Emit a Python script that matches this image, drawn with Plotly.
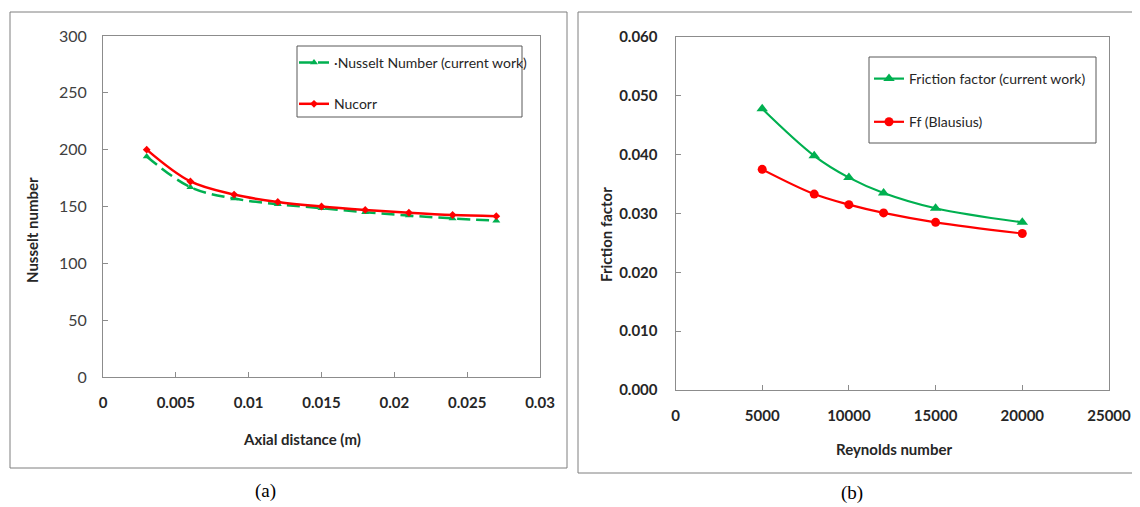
import plotly.graph_objects as go

# page offset caused by the default body margin of the html page
OFF = 8
W, H = 1140 - OFF, 507 - OFF

# ---------------- data ----------------
axial_x = [0.003, 0.006, 0.009, 0.012, 0.015, 0.018, 0.021, 0.024, 0.027]
nu_current = [194, 167, 157, 152, 148.5, 145, 142, 139.5, 137.5]
nu_corr = [200, 172, 160.5, 154, 150, 147, 144.5, 142.5, 141.5]

reynolds = [5000, 8000, 10000, 12000, 15000, 20000]
ff_current = [0.0478, 0.0398, 0.0361, 0.0335, 0.0309, 0.0285]
ff_blasius = [0.0375, 0.0333, 0.0315, 0.0301, 0.0285, 0.0266]

left_xticks = [0, 0.005, 0.01, 0.015, 0.02, 0.025, 0.03]
left_xticklabels = ["0", "0.005", "0.01", "0.015", "0.02", "0.025", "0.03"]
left_yticks = [0, 50, 100, 150, 200, 250, 300]
right_xticks = [0, 5000, 10000, 15000, 20000, 25000]
right_yticks = [0.0, 0.01, 0.02, 0.03, 0.04, 0.05, 0.06]
right_yticklabels = ["0.000", "0.010", "0.020", "0.030", "0.040", "0.050", "0.060"]

GREEN = "#00B050"
RED = "#FF0000"
FONT = "Lato"
TXT = "#262626"
TXT2 = "#404040"
AXC = "#8C8C8C"


def px(x):
    return (x - OFF) / W


def py(y):
    return 1 - (y - OFF) / H


fig = go.Figure()

# ---- left chart ----
fig.add_trace(go.Scatter(
    x=axial_x, y=nu_current, name="\u00b7Nusselt Number (current work)",
    mode="lines+markers", line=dict(color=GREEN, width=2.5, dash="13px,6px", shape="spline"),
    marker=dict(symbol="triangle-up", size=7, color=GREEN),
    xaxis="x", yaxis="y", legend="legend", legendgroup="a1"))
fig.add_trace(go.Scatter(
    x=axial_x, y=nu_corr, name="Nucorr",
    mode="lines+markers", line=dict(color=RED, width=2.5, shape="spline"),
    marker=dict(symbol="diamond", size=6, color=RED),
    xaxis="x", yaxis="y", legend="legend", legendgroup="a2"))

# ---- right chart ----
fig.add_trace(go.Scatter(
    x=reynolds, y=ff_current, name="Friction factor (current work)",
    mode="lines+markers", line=dict(color=GREEN, width=2.2, shape="spline"),
    marker=dict(symbol="triangle-up", size=10, color=GREEN),
    xaxis="x2", yaxis="y2", legend="legend2", legendgroup="b1"))
fig.add_trace(go.Scatter(
    x=reynolds, y=ff_blasius, name="Ff (Blausius)",
    mode="lines+markers", line=dict(color=RED, width=2.2, shape="spline"),
    marker=dict(symbol="circle", size=9, color=RED),
    xaxis="x2", yaxis="y2", legend="legend2", legendgroup="b2"))

common_axis = dict(showline=True, linecolor=AXC, linewidth=1, mirror=True,
                   showgrid=False, zeroline=False, ticks="inside", ticklen=5,
                   tickcolor=AXC, tickwidth=1, automargin=False)

fig.update_layout(
    width=W, height=H,
    margin=dict(l=0, r=0, t=0, b=0, autoexpand=False),
    paper_bgcolor="white", plot_bgcolor="white",
    font=dict(family=FONT, size=14, color=TXT),
    xaxis=dict(domain=[px(103), px(540)], range=[0, 0.03], anchor="y",
               tickvals=left_xticks, ticktext=["<b>%s</b>" % t for t in left_xticklabels],
               tickfont=dict(size=15, color=TXT), ticklabelstandoff=12, **common_axis),
    yaxis=dict(domain=[py(377), py(36)], range=[0, 300], anchor="x",
               tickvals=left_yticks, tickfont=dict(size=16, color=TXT2),
               ticklabelstandoff=12, **common_axis),
    xaxis2=dict(domain=[px(675.5), px(1109)], range=[0, 25000], anchor="y2",
                tickvals=right_xticks, ticktext=["<b>%d</b>" % t for t in right_xticks],
                tickfont=dict(size=15, color=TXT), ticklabelstandoff=12, **common_axis),
    yaxis2=dict(domain=[py(390), py(37)], range=[0, 0.06], anchor="x2",
                tickvals=right_yticks, ticktext=["<b>%s</b>" % t for t in right_yticklabels],
                tickfont=dict(size=15, color=TXT), ticklabelstandoff=14, **common_axis),
    legend=dict(x=px(294), y=py(47), xanchor="left", yanchor="top",
                bgcolor="rgba(0,0,0,0)", borderwidth=0, tracegroupgap=20,
                traceorder="grouped", itemwidth=30,
                font=dict(family=FONT, size=14, color=TXT)),
    legend2=dict(x=px(869), y=py(63), xanchor="left", yanchor="top",
                 bgcolor="rgba(0,0,0,0)", borderwidth=0, tracegroupgap=22,
                 traceorder="grouped", itemwidth=30,
                 font=dict(family=FONT, size=14, color=TXT)),
    showlegend=True,
)

shapes = []
# outer frames
shapes.append(dict(type="rect", xref="paper", yref="paper", x0=px(10), x1=px(567),
                   y0=py(468), y1=py(12), line=dict(color="#7f7f7f", width=1)))
shapes.append(dict(type="rect", xref="paper", yref="paper", x0=px(578), x1=px(1136),
                   y0=py(473), y1=py(12), line=dict(color="#7f7f7f", width=1)))
# legend boxes
shapes.append(dict(type="rect", xref="paper", yref="paper", x0=px(297), x1=px(522),
                   y0=py(117), y1=py(46), line=dict(color="#595959", width=1)))
shapes.append(dict(type="rect", xref="paper", yref="paper", x0=px(869), x1=px(1096),
                   y0=py(143), y1=py(57), line=dict(color="#595959", width=1)))
fig.update_layout(shapes=shapes)

ann = [
    dict(text="<b>Axial distance (m)</b>", x=px(302), y=py(439)),
    dict(text="<b>Nusselt number</b>", x=px(32), y=py(230), textangle=-90),
    dict(text="<b>Reynolds number</b>", x=px(894), y=py(449)),
    dict(text="<b>Friction factor</b>", x=px(606), y=py(235), textangle=-90),
]
for a in ann:
    fig.add_annotation(xref="paper", yref="paper", showarrow=False,
                       xanchor="center", yanchor="middle",
                       font=dict(family=FONT, size=15, color=TXT), **a)
for t, x, y in [("(a)", 265, 491), ("(b)", 852, 493)]:
    fig.add_annotation(text=t, xref="paper", yref="paper", x=px(x), y=py(y),
                       showarrow=False, xanchor="center", yanchor="middle",
                       font=dict(family="Liberation Serif", size=19, color="#000000"))

fig.write_html("out.html")
